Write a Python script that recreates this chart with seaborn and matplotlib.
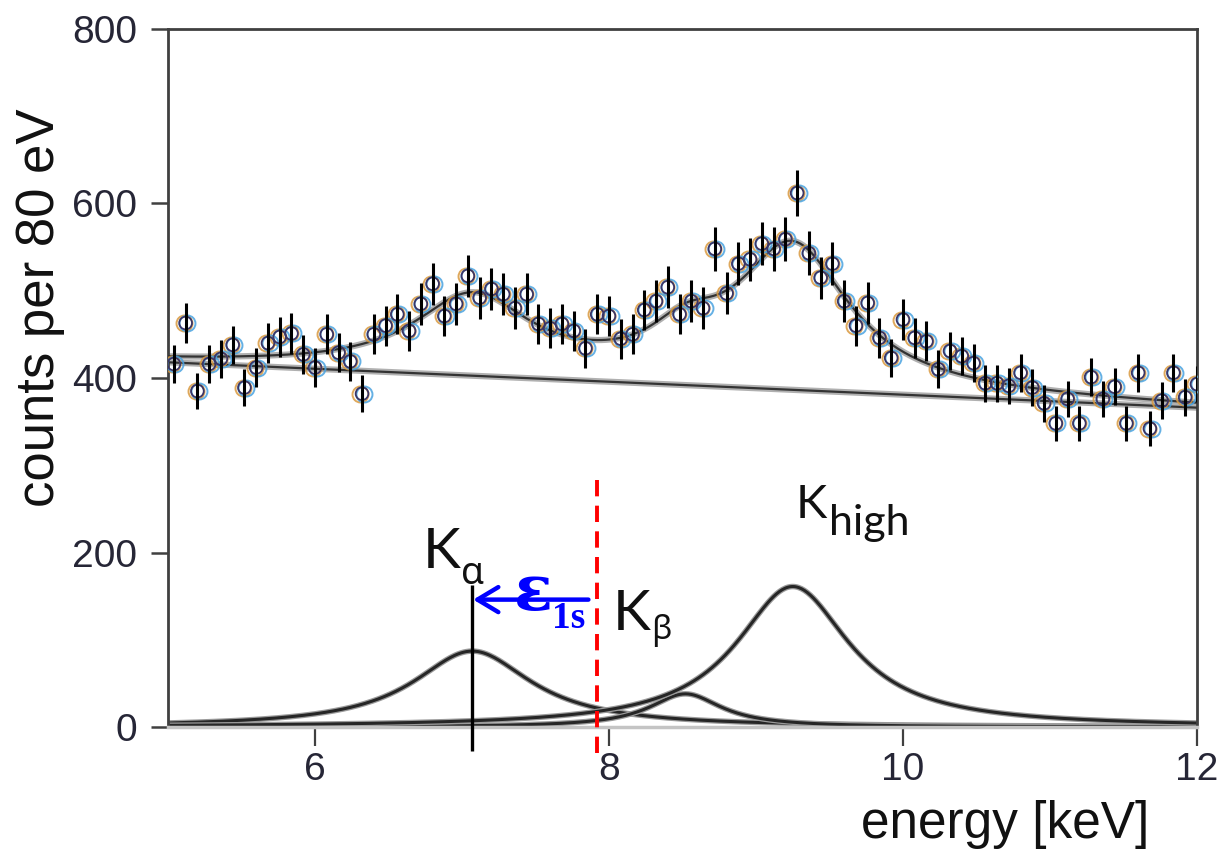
import numpy as np
import pandas as pd
import matplotlib
matplotlib.use("Agg")
import matplotlib.pyplot as plt
import matplotlib.transforms as mtransforms
import seaborn as sns

# ---------------- data ----------------
bin_start = 5.04      # keV, centre of first 80 eV bin
bin_width = 0.08      # keV
counts = [416, 463, 385, 416, 422, 438, 389, 412, 440, 447,
          451, 427, 412, 450, 429, 419, 382, 450, 460, 473,
          454, 485, 508, 471, 485, 517, 492, 502, 496, 480,
          496, 462, 457, 462, 454, 434, 473, 471, 445, 450,
          478, 488, 504, 473, 488, 480, 548, 497, 531, 536,
          554, 548, 559, 612, 543, 515, 531, 488, 460, 486,
          446, 423, 467, 446, 442, 410, 431, 425, 417, 394,
          394, 391, 406, 389, 371, 348, 376, 348, 401, 376,
          390, 348, 406, 342, 374, 406, 378, 393]
count_err = [22, 23, 21, 22, 22, 22, 21, 22, 23, 23,
             23, 22, 22, 23, 22, 22, 21, 23, 23, 23,
             23, 24, 24, 23, 24, 24, 24, 24, 24, 24,
             24, 23, 23, 23, 23, 22, 23, 23, 23, 23,
             23, 24, 24, 23, 24, 24, 25, 24, 25, 25,
             25, 25, 25, 26, 25, 24, 25, 24, 23, 24,
             23, 22, 23, 23, 23, 22, 22, 22, 22, 21,
             21, 21, 22, 21, 21, 20, 21, 20, 22, 21,
             21, 20, 22, 20, 21, 22, 21, 21]
energy = np.round(bin_start + bin_width * np.arange(len(counts)), 2)

# linear background (end points)
bg_energy = [5.0, 12.0]
bg_counts = [418, 366]

# fitted peak components (Lorentzian): centre, height, half width
peak_names = ["Ka", "Kb", "Khigh"]
peak_centers = [7.07, 8.52, 9.25]
peak_heights = [87, 38, 161]
peak_hwhm = [0.49, 0.30, 0.47]

x_ticks = [6, 8, 10, 12]
y_ticks = [0, 200, 400, 600, 800]

# ---------------- model curves ----------------
grid = np.linspace(5.0, 12.0, 701)
def lorentz(x, c, h, g):
    return h / (1.0 + ((x - c) / g) ** 2)

comp_frames = []
total = np.interp(grid, bg_energy, bg_counts)
for name, c, h, g in zip(peak_names, peak_centers, peak_heights, peak_hwhm):
    y = lorentz(grid, c, h, g)
    total = total + y
    comp_frames.append(pd.DataFrame({"energy": grid, "counts": y, "comp": name}))
comps = pd.concat(comp_frames, ignore_index=True)
fit = pd.DataFrame({"energy": grid, "counts": total})
bg = pd.DataFrame({"energy": bg_energy, "counts": bg_counts})
data = pd.DataFrame({"energy": energy, "counts": counts, "err": count_err})

# ---------------- figure ----------------
sns.set_theme(style="ticks")
plt.rcParams["font.family"] = ["Liberation Sans", "DejaVu Sans"]

fig = plt.figure(figsize=(12.21, 8.52), dpi=100)
ax = fig.add_axes([0.1376, 0.1467, 0.8427, 0.8193])

curve_col = "#262626"
for name in peak_names:
    sns.lineplot(data=comps[comps["comp"] == name], x="energy", y="counts",
                 ax=ax, color="#9a9a9a", lw=4.0, estimator=None, sort=False,
                 legend=False, zorder=2)
    sns.lineplot(data=comps[comps["comp"] == name], x="energy", y="counts",
                 ax=ax, color=curve_col, lw=2.2, estimator=None, sort=False,
                 legend=False, zorder=2)

for df in (bg, fit):
    sns.lineplot(data=df, x="energy", y="counts", ax=ax, color="#b0b0b0",
                 lw=4.5, estimator=None, legend=False, zorder=2)
    sns.lineplot(data=df, x="energy", y="counts", ax=ax, color="#333333",
                 lw=1.6, estimator=None, legend=False, zorder=3)

# data points with slight colour fringes
for dx, col in ((-1.6, "#d9993f"), (1.6, "#4aa3e0")):
    tr = mtransforms.offset_copy(ax.transData, fig=fig, x=dx, y=0, units="dots")
    ax.plot(data["energy"], data["counts"], "o", ms=11.5, mfc="none", mec=col,
            mew=1.4, alpha=0.85, transform=tr, zorder=4)
sns.scatterplot(data=data, x="energy", y="counts", ax=ax, marker="o", s=84,
                edgecolor="#3b3566", linewidth=1.3, legend=False, zorder=5)
ax.collections[-1].set_facecolor("none")
ax.errorbar(data["energy"], data["counts"], yerr=data["err"], fmt="none",
            ecolor="black", elinewidth=2.2, capsize=0, zorder=6)

# ---------------- annotations ----------------
ax.vlines(7.07, -27, 163, colors="black", lw=2.4, clip_on=False, zorder=6)
ax.vlines(7.92, -30, 287, colors="red", lw=2.8, linestyles=(0, (4.2, 2.4)),
          clip_on=False, zorder=6)
ax.annotate("", xy=(7.076, 146), xytext=(7.86, 146),
            arrowprops=dict(arrowstyle="->,head_length=0.75,head_width=0.45",
                            color="blue", lw=3.2, mutation_scale=20,
                            shrinkA=0, shrinkB=0), zorder=7)

k_font = ["Lato", "DejaVu Sans"]
g_font = ["Noto Sans", "DejaVu Sans"]
ax.text(6.736, 182, "K", fontsize=41, family=k_font, color="#111111",
        ha="left", va="baseline")
ax.text(6.995, 164, "α", fontsize=27, family=g_font, color="#111111",
        ha="left", va="baseline")
ax.text(8.029, 111, "K", fontsize=41, family=k_font, color="#111111",
        ha="left", va="baseline")
ax.text(8.285, 101, "β", fontsize=24, family=g_font, color="#111111",
        ha="left", va="baseline")
ax.text(9.268, 239, "K", fontsize=34, family=k_font, color="#111111",
        ha="left", va="baseline")
ax.text(9.50, 220, "high", fontsize=31, family=k_font, color="#111111",
        ha="left", va="baseline")
ax.text(7.35, 134, "ε", fontsize=46, family=["DejaVu Serif"], weight="bold",
        color="blue", ha="left", va="baseline", zorder=8)
ax.text(7.61, 113, "1s", fontsize=27, family=["Liberation Serif", "DejaVu Serif"],
        weight="bold", color="blue", ha="left", va="baseline", zorder=8)

# ---------------- axes styling ----------------
ax.set_xlim(5, 12)
ax.set_ylim(0, 800)
ax.set_xticks(x_ticks)
ax.set_yticks(y_ticks)
ax.set_xticklabels([str(t) for t in x_ticks])
ax.set_yticklabels([str(t) for t in y_ticks])

for side in ("left", "top", "right"):
    ax.spines[side].set_color("#404040")
    ax.spines[side].set_linewidth(2.0)
ax.spines["bottom"].set_color("#c4c4c4")
ax.spines["bottom"].set_linewidth(2.5)

lab_col = "#262636"
ax.tick_params(axis="y", direction="out", length=12, width=1.8, color="#404040",
               labelsize=28, pad=10, labelcolor=lab_col)
ax.tick_params(axis="x", direction="out", length=14, width=1.6, color="#404040",
               labelsize=28, pad=4, labelcolor=lab_col)
ax.yaxis.get_major_ticks()[0].tick1line.set_color("#c4c4c4")

ax.set_xlabel("energy [keV]", fontsize=37, color="#111111", va="center", ha="center")
ax.xaxis.set_label_coords(0.8134, -0.139)
ax.set_ylabel("counts per 80 eV", fontsize=38, color="#111111", va="center", ha="center")
ax.yaxis.set_label_coords(-0.1244, 0.600)

fig.savefig("out.png", dpi=100)
